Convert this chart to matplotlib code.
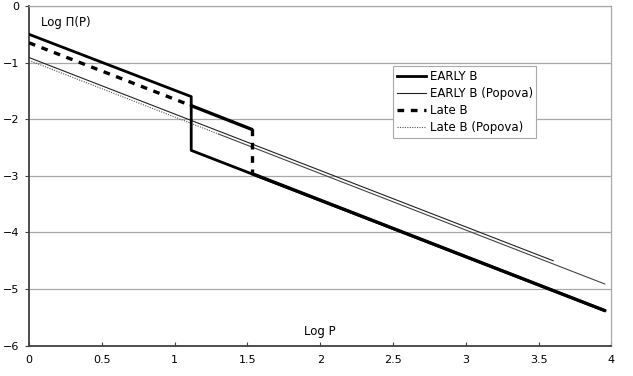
import matplotlib.pyplot as plt

# series (log P, log Pi(P))
early_x = [0, 1.114, 1.114, 3.954]
early_y = [-0.5, -1.6, -2.55, -5.38]

early_pop_x = [0, 3.6]
early_pop_y = [-0.91, -4.50]

late_x = [0, 1.114, 1.531, 1.531, 3.954]
late_y = [-0.65, -1.76, -2.18, -2.96, -5.38]

late_pop_x = [0, 1.3, 3.954]
late_pop_y = [-0.96, -2.26, -4.91]

x_ticks = [0, 0.5, 1, 1.5, 2, 2.5, 3, 3.5, 4]
y_ticks = [-6, -5, -4, -3, -2, -1, 0]

fig = plt.figure(figsize=(6.33, 3.76), dpi=100)
ax = fig.add_axes([0.0458, 0.0806, 0.9202, 0.9034])

ax.plot(early_x, early_y, color='black', lw=2.0, label='EARLY B', zorder=4)
ax.plot(early_pop_x, early_pop_y, color='#222222', lw=0.8, label='EARLY B (Popova)', zorder=3)

# late B: dashed piece, then the dense part that looks solid, dashed drop, tail
late_styles = ['--', '-', '--', '-']
for i, ls in enumerate(late_styles):
    ax.plot(late_x[i:i + 2], late_y[i:i + 2], color='black', lw=2.4,
            linestyle=ls, dashes=(2.0, 2.0) if ls == '--' else (None, None),
            solid_capstyle='round', zorder=4)
ax.plot([], [], color='black', lw=2.4, linestyle='--', dashes=(2.0, 2.0), label='Late B')

# late B (Popova): dotted where points are sparse, reads as solid further on
ax.plot(late_pop_x[:2], late_pop_y[:2], color='#555555', lw=0.8,
        linestyle=(0, (1, 1.2)), zorder=3)
ax.plot(late_pop_x[1:], late_pop_y[1:], color='#444444', lw=0.8, zorder=3)
ax.plot([], [], color='#555555', lw=0.8, linestyle=(0, (1, 1.2)), label='Late B (Popova)')

ax.set_xlim(0, 4)
ax.set_ylim(-6, 0)
ax.set_xticks(x_ticks)
ax.set_xticklabels(['0', '0.5', '1', '1.5', '2', '2.5', '3', '3.5', '4'])
ax.set_yticks(y_ticks)
ax.tick_params(axis='x', direction='in', length=3, color='#404040', labelsize=8, pad=7)
ax.tick_params(axis='y', direction='out', length=3, color='#404040', labelsize=8, pad=4)
ax.grid(axis='y', color='#a8a8a8', lw=0.9)
ax.set_axisbelow(True)

for s in ['left', 'bottom']:
    ax.spines[s].set_color('#404040')
    ax.spines[s].set_linewidth(1.3)
ax.spines['right'].set_color('#a8a8a8')
ax.spines['top'].set_color('#a8a8a8')
ax.spines['right'].set_linewidth(0.9)
ax.spines['top'].set_linewidth(0.9)

ax.text(0.08, -0.3, 'Log \u03a0(P)', fontsize=8.5, va='center', ha='left')
ax.text(1.89, -5.75, 'Log P', fontsize=8.5, va='center', ha='left')

leg = ax.legend(loc='upper left', bbox_to_anchor=(0.625, 0.823), fontsize=8.5,
                frameon=True, fancybox=False, edgecolor='#a8a8a8', framealpha=1,
                borderpad=0.3, labelspacing=0.35, handlelength=2.5, handletextpad=0.3,
                borderaxespad=0)
leg.get_frame().set_linewidth(0.8)

fig.savefig('out.png', dpi=100)
